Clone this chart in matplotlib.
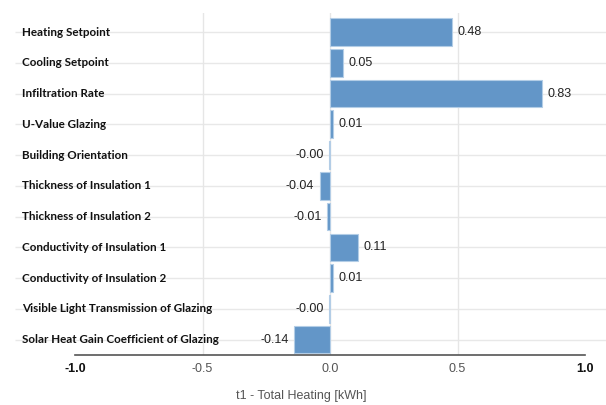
import matplotlib
matplotlib.use("Agg")
import matplotlib.pyplot as plt

categories = [
    "Heating Setpoint",
    "Cooling Setpoint",
    "Infiltration Rate",
    "U-Value Glazing",
    "Building Orientation",
    "Thickness of Insulation 1",
    "Thickness of Insulation 2",
    "Conductivity of Insulation 1",
    "Conductivity of Insulation 2",
    "Visible Light Transmission of Glazing",
    "Solar Heat Gain Coefficient of Glazing",
]
values = [0.48, 0.05, 0.83, 0.01, -0.004, -0.04, -0.01, 0.11, 0.01, -0.004, -0.14]
xticks = [-1.0, -0.5, 0.0, 0.5, 1.0]
xtick_labels = ["-1.0", "-0.5", "0.0", "0.5", "1.0"]
xlabel = "t1 - Total Heating [kWh]"

W, H = 606, 405
fig = plt.figure(figsize=(W / 100, H / 100), dpi=100)
left, right, top, bottom = 75, 585, 13, 355
ax = fig.add_axes([left / W, 1 - bottom / H, (right - left) / W, (bottom - top) / H])

pos = list(range(len(categories)))
ax.set_xlim(-1.0, 1.0)
ax.set_ylim(10.5, -0.62)

# horizontal row lines running through the label column
ytr = ax.get_yaxis_transform()
ax.hlines(pos, -(left - 15) / (right - left), (W - left) / (right - left),
          transform=ytr, colors="#e8e8e8", linewidth=1.0, clip_on=False, zorder=0)
# vertical grid lines
for xv in xticks[1:-1]:
    ax.axvline(xv, color="#e6e6e6", linewidth=1.0, zorder=0)

ax.barh(pos, values, height=0.9, color="#6396c8", edgecolor="#b3cde6",
        linewidth=0.8, zorder=2)

for p, v in zip(pos, values):
    off, ha = (4, "left") if v >= 0 else (-4, "right")
    ax.annotate(f"{v:.2f}", (v, p), xytext=(off, 0), textcoords="offset points",
                ha=ha, va="center", fontsize=9, color="#222222",
                family="Liberation Sans", zorder=3)

# category names, left aligned
lab_x = (22 - left) / (right - left)
for p, c in zip(pos, categories):
    ax.text(lab_x, p, c, transform=ytr, ha="left", va="center",
            fontsize=8.4, fontweight="bold", family="Lato", color="#111111")

ax.set_yticks([])
ax.set_xticks(xticks)
ax.set_xticklabels(xtick_labels, family="Liberation Sans", fontsize=9, color="#555555")
for i in (0, len(xticks) - 1):
    lbl = ax.get_xticklabels()[i]
    lbl.set_fontweight("bold")
    lbl.set_color("#111111")
ax.tick_params(axis="x", length=0, pad=6)

for s in ("top", "right", "left"):
    ax.spines[s].set_visible(False)
ax.spines["bottom"].set_color("#555555")
ax.spines["bottom"].set_linewidth(1.2)

fig.text(0.497, 1 - 396 / H, xlabel, ha="center", va="center",
         fontsize=9, color="#555555", family="Liberation Sans")

fig.savefig("out.png", dpi=100, facecolor="white")
